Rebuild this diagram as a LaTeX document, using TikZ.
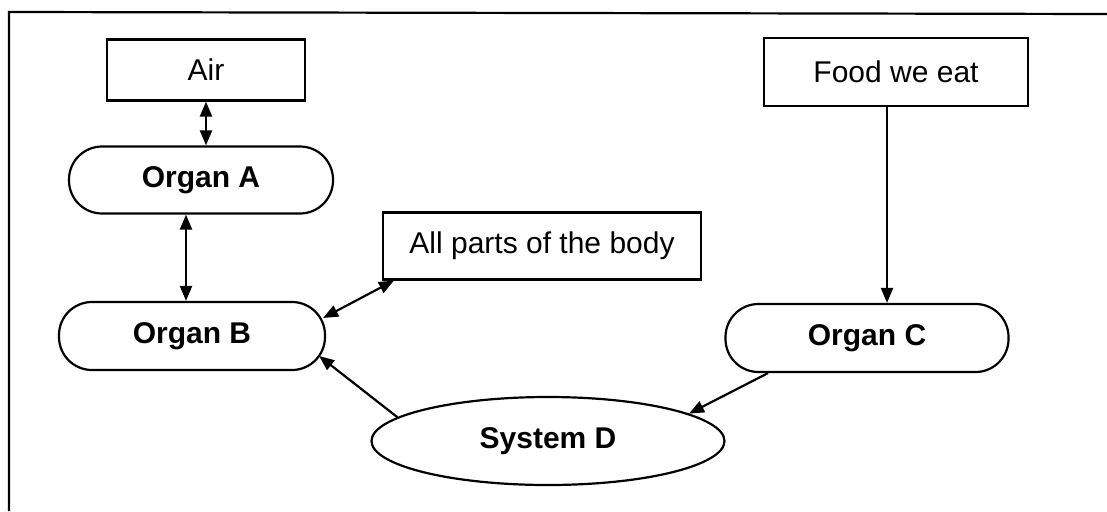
\documentclass[tikz,border=0pt]{standalone}
\usepackage{fontspec}
\setmainfont{Liberation Sans}
\usetikzlibrary{arrows.meta,shapes.geometric}

\begin{document}
\begin{tikzpicture}[x=1pt,y=-1pt,line width=2.2pt,
		box/.style={draw,rectangle,inner sep=0pt,minimum height=64pt,font=\fontsize{30}{36}\selectfont},
		organ/.style={draw,rectangle,rounded corners=33pt,inner sep=0pt,minimum height=67pt,font=\fontsize{30}{36}\selectfont\bfseries},
		system/.style={draw,ellipse,inner sep=0pt,minimum width=353pt,minimum height=88pt,font=\fontsize{30}{36}\selectfont\bfseries},
		arr/.style={-{Triangle[length=15pt,width=12pt]}},
		darr/.style={{Triangle[length=15pt,width=12pt]}-{Triangle[length=15pt,width=12pt]}}]
		\useasboundingbox (0,0) rectangle (1107,511);
		% frame
		\draw (9,511) -- (9,12) -- (1107,14);
		% boxes
		\node[box,minimum width=198pt,minimum height=61pt] (air) at (206,70) {Air};
		\node[box,minimum width=264pt,minimum height=68pt] (food) at (896,72) {Food we eat};
		\node[box,minimum width=318pt,minimum height=67pt] (parts) at (542,246) {All parts of the body};
		% organs
		\node[organ,minimum width=264pt] (orgA) at (201,180) {Organ A};
		\node[organ,minimum width=266pt,minimum height=68pt] (orgB) at (192,336) {Organ B};
		\node[organ,minimum width=283pt,minimum height=68pt] (orgC) at (867,338) {Organ C};
		\node[system] (sysD) at (548,441) {System D};
		% connectors
		\draw[darr] (air.south) -- (air.south |- orgA.north);
		\draw[darr] ([xshift=-6pt]orgB.north |- orgA.south) -- ([xshift=-6pt]orgB.north);
		\draw[darr] ([xshift=12pt]parts.south west) -- ([xshift=-3pt,yshift=18pt]orgB.east);
		\draw[arr] (sysD.171) -- ([xshift=-7pt,yshift=-20pt]orgB.east);
		\draw[arr] ([xshift=-9pt]food.south) coordinate (f) -- (f |- orgC.north);
		\draw[arr] ([xshift=-99pt]orgC.south) -- (sysD.11);
\end{tikzpicture}
\end{document}
